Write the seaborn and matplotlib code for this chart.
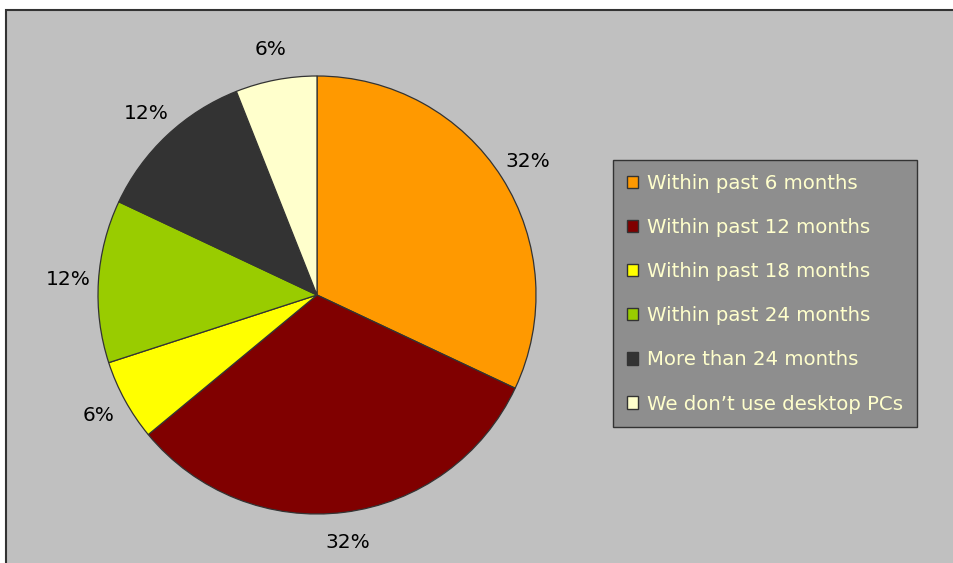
import matplotlib
matplotlib.use("Agg")
import matplotlib.pyplot as plt
from matplotlib.patches import Rectangle, Patch
import seaborn as sns

# Survey: when was the last desktop PC purchase
categories = [
    "Within past 6 months",
    "Within past 12 months",
    "Within past 18 months",
    "Within past 24 months",
    "More than 24 months",
    "We don\u2019t use desktop PCs",
]
shares = [32, 32, 6, 12, 12, 6]
colors = ["#FF9900", "#800000", "#FFFF00", "#99CC00", "#333333", "#FFFFCC"]

sns.set_theme(style="white")
plt.rcParams["font.family"] = ["DejaVu Sans"]

W, H = 954, 563
fig = plt.figure(figsize=(W / 100, H / 100), dpi=100)
fig.patch.set_facecolor("white")
ax = fig.add_axes([0, 0, 1, 1])

# chart area
ax.add_patch(Rectangle((6, -5), W, H - 10 + 5, facecolor="#C0C0C0",
                       edgecolor="#333333", linewidth=1.5, zorder=0))

wedges, _, pct = ax.pie(
    shares,
    colors=colors,
    startangle=90,
    counterclock=False,
    center=(317, H - 295),
    radius=219,
    autopct="%d%%",
    pctdistance=1.14,
    wedgeprops=dict(edgecolor="#333333", linewidth=0.9),
    textprops=dict(fontsize=14.5, color="black"),
    frame=True,
)
ax.set_xlim(0, W)
ax.set_ylim(0, H)
ax.set_aspect("equal")
ax.axis("off")

handles = [Patch(facecolor=c, edgecolor="#333333", linewidth=1.0) for c in colors]
leg = ax.legend(
    handles, categories,
    loc="upper left",
    bbox_to_anchor=(613 / W, 1 - 160 / H),
    bbox_transform=fig.transFigure,
    frameon=True, fancybox=False,
    facecolor="#8E8E8E", edgecolor="#333333", framealpha=1,
    fontsize=14.25, labelcolor="#FFFFCC",
    handlelength=0.58, handleheight=0.58, handletextpad=0.42,
    labelspacing=1.27, borderpad=0.7, borderaxespad=0,
)
leg.get_frame().set_linewidth(1.0)

fig.savefig("out.png", dpi=100, facecolor="white")
